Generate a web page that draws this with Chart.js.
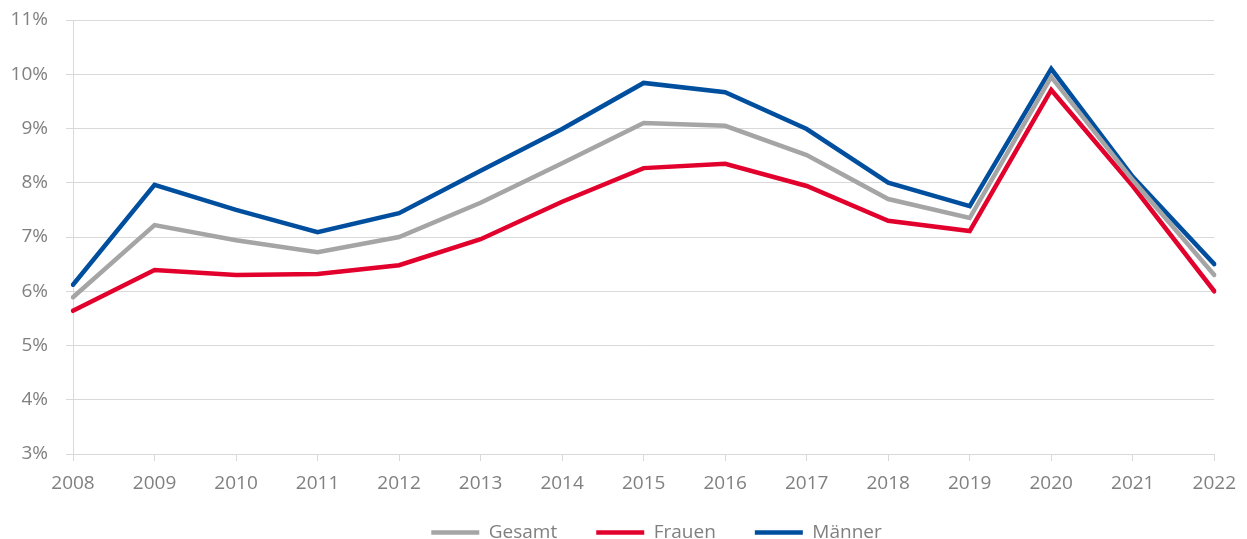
<!DOCTYPE html>
<html>
<head>
<meta charset="utf-8">
<script src="https://cdn.jsdelivr.net/npm/chart.js@4.4.0/dist/chart.umd.min.js"></script>
<style>
  html, body { margin: 0; padding: 0; background: #fff; }
  #wrap { width: 1247px; height: 539px; }
</style>
</head>
<body>
<div id="wrap"><canvas id="chart" width="1247" height="539"></canvas></div>
<script>
const years = ["2008", "2009", "2010", "2011", "2012", "2013", "2014", "2015",
  "2016", "2017", "2018", "2019", "2020", "2021", "2022"];
const gesamt = [5.89, 7.22, 6.94, 6.72, 7.0, 7.63, 8.36, 9.1, 9.05, 8.51, 7.7, 7.35, 9.95, 8.05, 6.3];
const frauen = [5.64, 6.39, 6.3, 6.32, 6.48, 6.96, 7.65, 8.27, 8.35, 7.94, 7.3, 7.11, 9.71, 7.94, 6.0];
const maenner = [6.12, 7.96, 7.5, 7.09, 7.44, 8.22, 8.99, 9.84, 9.67, 8.99, 8.0, 7.57, 10.1, 8.11, 6.5];
const yTicks = { min: 3, max: 11, step: 1 };

const gridColor = "#d9d9d9";
const textColor = "#808080";
const font = { family: "'Open Sans', sans-serif", size: 19 };

// move the legend row to where it sits in the reference,
// and let the x labels draw below the (shortened) x axis box
const layoutTweaks = {
  id: "layoutTweaks",
  afterLayout(chart) {
    chart.legend.left += 47;
    chart.legend.right += 47;
    chart.scales.x.bottom = chart.height;
  },
};

const ctx = document.getElementById("chart").getContext("2d");
new Chart(ctx, {
  type: "line",
  data: {
    labels: years,
    datasets: [
      { label: "Gesamt", data: gesamt, borderColor: "#a5a5a5", backgroundColor: "#a5a5a5" },
      { label: "Frauen", data: frauen, borderColor: "#e2002c", backgroundColor: "#e2002c" },
      { label: "Männer", data: maenner, borderColor: "#004f9f", backgroundColor: "#004f9f" },
    ].map((ds) => ({
      ...ds,
      borderWidth: 4.5,
      borderCapStyle: "round",
      borderJoinStyle: "miter",
      pointRadius: 0,
      tension: 0,
      fill: false,
    })),
  },
  options: {
    responsive: false,
    animation: false,
    layout: { padding: { top: 20, right: 28, left: 0, bottom: 0 } },
    scales: {
      x: {
        offset: false,
        grid: {
          display: true,
          drawOnChartArea: false,
          drawTicks: true,
          tickLength: 7,
          color: gridColor,
        },
        border: { color: gridColor },
        ticks: { color: textColor, font, padding: 11, maxRotation: 0, autoSkip: false },
        afterFit(scale) {
          scale.height = 30;
        },
      },
      y: {
        min: yTicks.min,
        max: yTicks.max,
        grid: { color: gridColor, tickLength: 7 },
        border: { color: gridColor },
        ticks: {
          stepSize: yTicks.step,
          color: textColor,
          font,
          padding: 18,
          callback: (v) => v + "%",
        },
        afterFit(scale) {
          scale.width = 73;
          scale.paddingTop = 0;
          scale.paddingBottom = 0;
        },
      },
    },
    plugins: {
      tooltip: { enabled: false },
      legend: {
        position: "bottom",
        maxHeight: 55,
        labels: {
          color: textColor,
          font,
          usePointStyle: true,
          pointStyle: "line",
          pointStyleWidth: 48,
          padding: 39,
        },
      },
    },
  },
  plugins: [layoutTweaks],
});
</script>
</body>
</html>
